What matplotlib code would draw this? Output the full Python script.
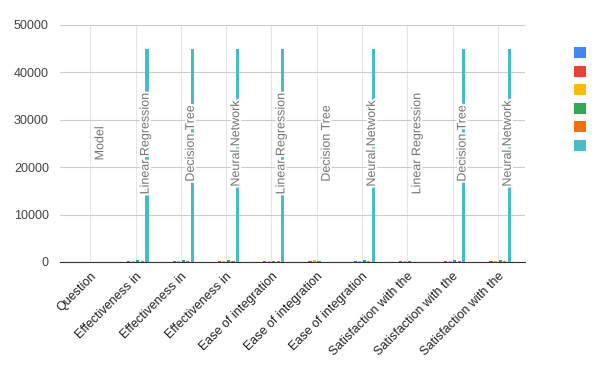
import matplotlib.pyplot as plt
import matplotlib.patheffects as pe
from matplotlib.patches import Patch
import numpy as np

plt.rcParams['font.family'] = ['Liberation Sans', 'DejaVu Sans']

categories = ["Question", "Effectiveness in", "Effectiveness in", "Effectiveness in",
              "Ease of integration", "Ease of integration", "Ease of integration",
              "Satisfaction with the", "Satisfaction with the", "Satisfaction with the"]
model_labels = ["Model", "Linear Regression", "Decision Tree", "Neural Network",
                "Linear Regression", "Decision Tree", "Neural Network",
                "Linear Regression", "Decision Tree", "Neural Network"]

blue = [0, 0, 0, 0, 0, 0, 0, 0, 0, 0]
red = [0, 150, 150, 100, 150, 150, 150, 150, 150, 150]
yellow = [0, 200, 200, 200, 150, 350, 200, 300, 200, 200]
green = [0, 450, 450, 450, 150, 150, 400, 150, 450, 400]
orange = [0, 150, 150, 150, 100, 0, 150, 0, 100, 150]
teal = [0, 45000, 45000, 45000, 45000, 0, 45000, 0, 45000, 45000]

series = [blue, red, yellow, green, orange, teal]
colors = ["#4285f4", "#ea4335", "#fbbc04", "#34a853", "#ff6d01", "#46bdc6"]

fig = plt.figure(figsize=(6, 3.71), dpi=100)
ax = fig.add_axes([0.1, 0.294, 0.775, 0.639])

x = np.arange(len(categories))
step = 0.1
for k, (vals, c) in enumerate(zip(series, colors)):
    ax.bar(x + (k - 2.5) * step, vals, width=0.07, color=c, zorder=2)

# model names drawn as rotated annotations over the teal bars
for i, lab in enumerate(model_labels):
    ax.text(x[i] + 2.5 * step - 0.03, 25000, lab, rotation=90, ha='center', va='center',
            fontsize=9, color='#757575', zorder=3,
            path_effects=[pe.withStroke(linewidth=3, foreground='white')])

ax.set_xlim(-0.67, 9.6)
ax.set_ylim(0, 50000)
ax.set_yticks([0, 10000, 20000, 30000, 40000, 50000])
ax.set_xticks(x)
ax.set_xticklabels(categories, rotation=45, ha='right', rotation_mode='anchor',
                   fontsize=9, color='#222222')
ax.tick_params(axis='y', length=0, pad=8, labelsize=9, labelcolor='#444444')
ax.tick_params(axis='x', length=0, pad=6)
ax.grid(axis='y', color='#cccccc', linewidth=0.8, zorder=0)
ax.grid(axis='x', color='#e6e6e6', linewidth=0.8, zorder=0)
for s in ['top', 'right', 'left']:
    ax.spines[s].set_visible(False)
ax.spines['bottom'].set_color('#333333')
ax.spines['bottom'].set_zorder(4)

handles = [Patch(facecolor=c) for c in colors]
fig.legend(handles, [''] * 6, loc='upper left', bbox_to_anchor=(0.945, 0.893),
           frameon=False, handlelength=0.85, handleheight=0.85, labelspacing=0.32,
           handletextpad=0, borderpad=0)

fig.savefig('out.png', dpi=100)
